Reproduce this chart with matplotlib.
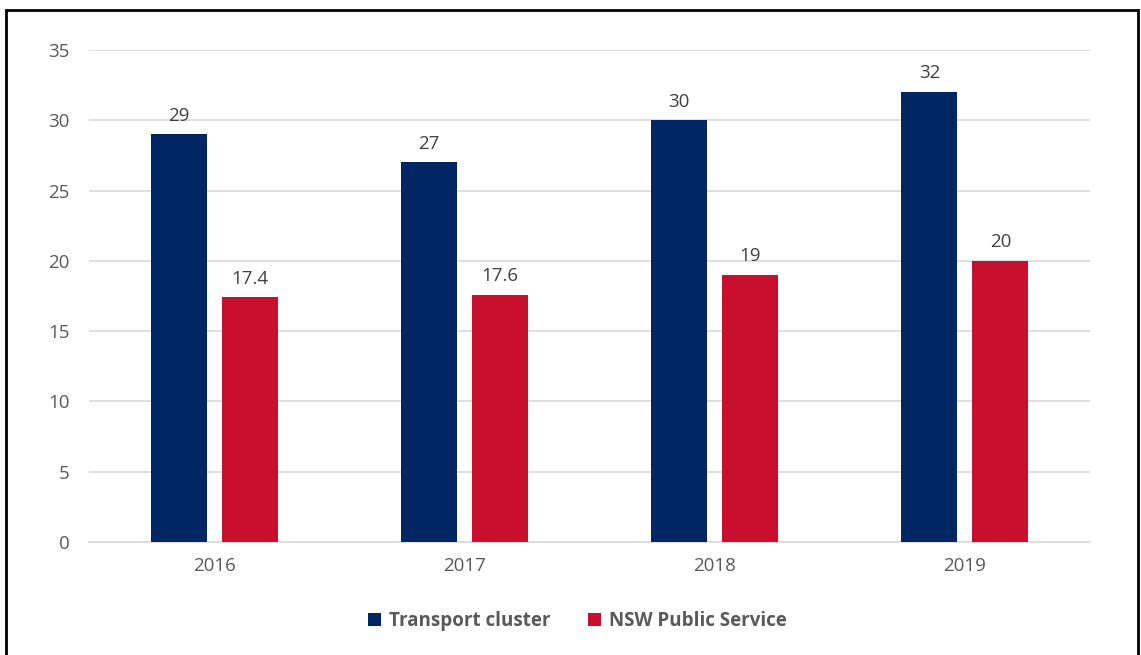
import numpy as np
import matplotlib.pyplot as plt
from matplotlib.patches import Rectangle

# Data
years = ['2016', '2017', '2018', '2019']
transport = [29, 27, 30, 32]
nsw = [17.4, 17.6, 19, 20]
transport_labels = ['29', '27', '30', '32']
nsw_labels = ['17.4', '17.6', '19', '20']

navy = '#002664'
red = '#C8102E'
text_col = '#595959'

plt.rcParams['font.family'] = ['Open Sans', 'DejaVu Sans']

fig = plt.figure(figsize=(11.41, 6.55), dpi=100)
ax = fig.add_axes([0.078, 0.1725, 0.8773, 0.7512])

x = np.arange(len(years))
w = 0.224
off = 0.142
b1 = ax.bar(x - off, transport, w, color=navy, label='Transport cluster', zorder=3)
b2 = ax.bar(x + off, nsw, w, color=red, label='NSW Public Service', zorder=3)

for bars, labels in ((b1, transport_labels), (b2, nsw_labels)):
    for rect, lab in zip(bars, labels):
        ax.annotate(lab, (rect.get_x() + rect.get_width() / 2, rect.get_height()),
                    xytext=(0, 7), textcoords='offset points', ha='center', va='bottom',
                    fontsize=13.5, color='#404040')

ax.set_ylim(0, 35)
ax.set_xlim(-0.5, 3.5)
ax.set_yticks(range(0, 36, 5))
ax.set_xticks(x)
ax.set_xticklabels(years)
ax.yaxis.grid(True, color='#d9d9d9', linewidth=1.2, zorder=0)
ax.set_axisbelow(True)
for s in ['top', 'right', 'left']:
    ax.spines[s].set_visible(False)
ax.spines['bottom'].set_color('#d9d9d9')
ax.spines['bottom'].set_linewidth(1.2)
ax.tick_params(axis='both', length=0, labelsize=13.5, labelcolor=text_col)
ax.tick_params(axis='x', pad=11)
ax.tick_params(axis='y', pad=14)

leg = fig.legend(handles=[b1, b2], loc='center', bbox_to_anchor=(0.506, 0.052), ncol=2,
                 frameon=False, handlelength=0.7, handleheight=0.7, columnspacing=2.0,
                 handletextpad=0.4, prop={'weight': 'bold', 'size': 13.5})
for t in leg.get_texts():
    t.set_color(text_col)

# outer border
fig.patches.append(Rectangle((6 / 1141, -0.01), 1132 / 1141, 1 - 10 / 655 + 0.01,
                             transform=fig.transFigure, fill=False, edgecolor='black',
                             linewidth=2, clip_on=False))

fig.savefig('out.png', dpi=100)
